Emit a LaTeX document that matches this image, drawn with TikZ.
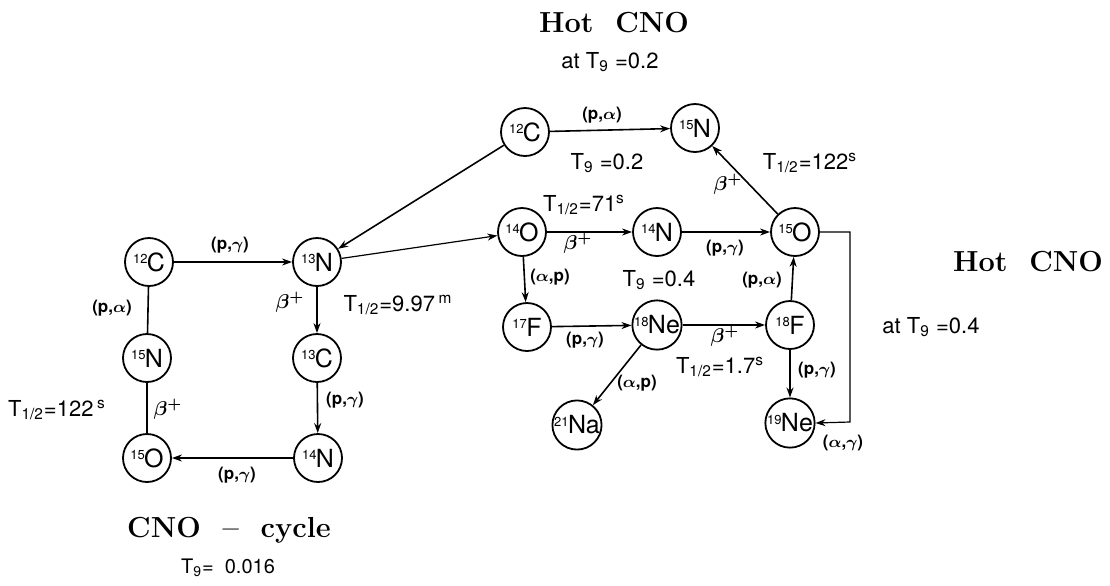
\documentclass[tikz,border=0pt]{standalone}
\usepackage{fontspec}
\setsansfont{TeX Gyre Heros}
\usetikzlibrary{arrows.meta}
\newcommand{\isot}[2]{\raisebox{0.6ex}{\fontsize{6.5}{6.5}\selectfont#1}\kern-0.3pt#2}
\newcommand{\thalf}{T\textsubscript{1/2}}
\tikzset{
  nuc/.style={circle, draw, line width=0.9pt, minimum size=24pt, inner sep=0pt,
    font=\sffamily\fontsize{12.5}{12.5}\selectfont},
  rx/.style={-{Stealth[length=5pt,width=3.5pt]}, line width=0.8pt},
  ln/.style={line width=0.8pt},
  lab/.style={font=\sffamily\bfseries\boldmath\fontsize{8.5}{9}\selectfont, inner sep=1pt},
  blab/.style={font=\boldmath\fontsize{10}{10}\selectfont, inner sep=1pt},
  tlab/.style={font=\sffamily\fontsize{11}{11}\selectfont, inner sep=1pt},
  ttl/.style={font=\rmfamily\bfseries\fontsize{14.5}{15}\selectfont, inner sep=1pt}
}
\begin{document}
\begin{tikzpicture}[x=0.5pt, y=-0.5pt]
  \useasboundingbox (0,0) rectangle (1110,585);
  % CNO循环
  \node[nuc] (c12) at (149,262) {\isot{12}{C}};
  \node[nuc] (n13) at (317,262) {\isot{13}{N}};
  \node[nuc] (n15) at (147,358) {\isot{15}{N}};
  \node[nuc] (c13) at (317,358) {\isot{13}{C}};
  \node[nuc] (o15) at (147,458) {\isot{15}{O}};
  \node[nuc] (n14) at (318,458) {\isot{14}{N}};
  \draw[rx] (c12) -- (n13);
  \draw[rx] (n13) -- (c13);
  \draw[rx] (c13) -- (n14);
  \draw[rx] (n14) -- (o15);
  \draw[ln] (o15) -- (n15);
  \draw[ln] (n15) -- (c12);
  \node[lab] (l1) at (230,245) {(p,$\gamma$)};
  \node[lab] (l2) at (112,308) {(p,$\alpha$)};
  \node[blab] (l3) at (290,302) {$\beta^+$};
  \node[tlab] (t1) at (398,305) {\thalf=9.97\,\textsuperscript{m}};
  \node[blab] (l4) at (168,409) {$\beta^+$};
  \node[tlab] (t2) at (57,410) {\thalf=122\,\textsuperscript{s}};
  \node[lab] (l5) at (345,400) {(p,$\gamma$)};
  \node[lab] (l6) at (237,475) {(p,$\gamma$)};
  \node[ttl] (h1) at (229,530) {CNO \ -- \ cycle};
  \node[tlab, font=\sffamily\fontsize{10}{10}\selectfont] (h2) at (228,568) {T\textsubscript{9}= \ 0.016};
  % 热CNO, T9=0.2
  \node[nuc] (c12h) at (525,132) {\isot{12}{C}};
  \node[nuc] (n15h) at (695,128) {\isot{15}{N}};
  \node[nuc] (o14) at (522,232) {\isot{14}{O}};
  \node[nuc] (n14h) at (657,232) {\isot{14}{N}};
  \node[nuc] (o15h) at (795,232) {\isot{15}{O}};
  \draw[rx] (c12h) -- (n13);
  \draw[rx, line width=0.6pt] (n13) -- (o14);
  \draw[rx] (c12h) -- (n15h);
  \draw[rx] (o15h) -- (n15h);
  \draw[rx] (o14) -- (n14h);
  \draw[rx] (n14h) -- (o15h);
  \node[lab] (l7) at (602,115) {(p,$\alpha$)};
  \node[tlab] (t3) at (607,163) {T\textsubscript{9} =0.2};
  \node[blab] (l8) at (728,184) {$\beta^+$};
  \node[tlab] (t4) at (810,163) {\thalf=122\textsuperscript{s}};
  \node[tlab] (t5) at (584,205) {\thalf=71\textsuperscript{s}};
  \node[blab] (l9) at (578,243) {$\beta^+$};
  \node[lab] (l10) at (725,248) {(p,$\gamma$)};
  \node[ttl] (h3) at (614,23) {Hot \ CNO};
  \node[tlab] (h4) at (610,62) {at T\textsubscript{9} =0.2};
  % 热CNO, T9=0.4
  \node[nuc] (f17) at (527,327) {\isot{17}{F}};
  \node[nuc] (ne18) at (657,325) {\isot{18}{Ne}};
  \node[nuc] (f18) at (790,325) {\isot{18}{F}};
  \node[nuc] (na21) at (577,425) {\isot{21}{Na}};
  \node[nuc] (ne19) at (790,423) {\isot{19}{Ne}};
  \coordinate (rt) at (850,232);
  \coordinate (rb) at (850,422);
  \draw[rx] (o14) -- (f17);
  \draw[rx] (f17) -- (ne18);
  \draw[rx] (ne18) -- (f18);
  \draw[rx] (ne18) -- (na21);
  \draw[rx] (f18) -- (o15h);
  \draw[rx] (f18) -- (ne19);
  \draw[rx, line width=0.6pt] (o15h.east) -- (rt) -- (rb) -- (ne19.east);
  \node[lab] (l11) at (550,277) {($\alpha$,p)};
  \node[tlab] (t6) at (659,280) {T\textsubscript{9} =0.4};
  \node[lab] (l12) at (762,280) {(p,$\alpha$)};
  \node[lab] (l13) at (585,340) {(p,$\gamma$)};
  \node[blab] (l14) at (725,336) {$\beta^+$};
  \node[tlab] (t7) at (720,367) {\thalf=1.7\textsuperscript{s}};
  \node[lab] (l15) at (637,383) {($\alpha$,p)};
  \node[lab] (l16) at (817,370) {(p,$\gamma$)};
  \node[lab] (l17) at (843,443) {($\alpha$,$\gamma$)};
  \node[ttl] (h5) at (1028,262) {Hot \ CNO};
  \node[tlab] (h6) at (931,327) {at T\textsubscript{9} =0.4};
\end{tikzpicture}
\end{document}
